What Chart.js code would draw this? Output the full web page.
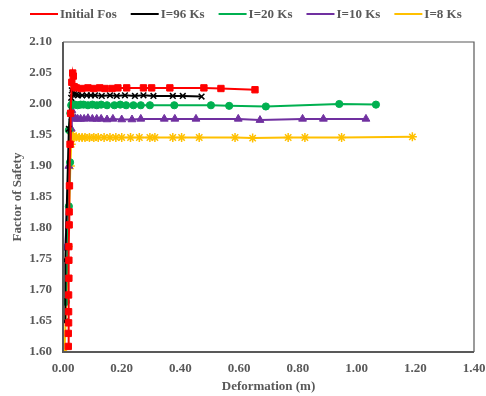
<!DOCTYPE html>
<html>
<head>
<meta charset="utf-8">
<script src="https://cdn.jsdelivr.net/npm/chart.js@4/dist/chart.umd.min.js"></script>
<style>
  html, body { margin: 0; padding: 0; background: #fff; }
  #wrap { width: 486px; height: 396px; }
</style>
</head>
<body>
<div id="wrap"><canvas id="c" width="486" height="396"></canvas></div>
<script>
// Factor of safety against deformation for each loading case
const seriesNames = ["Initial Fos", "I=96 Ks", "I=20 Ks", "I=10 Ks", "I=8 Ks"];

const initialX = [0.018,0.018,0.019,0.019,0.019,0.020,0.020,0.020,0.021,0.021,0.022,0.024,0.026,0.030,0.033,0.035,0.038,0.045,0.064,0.085,0.105,0.125,0.143,0.167,0.187,0.217,0.274,0.302,0.364,0.480,0.538,0.654];
const initialY = [1.609,1.630,1.647,1.665,1.692,1.719,1.748,1.770,1.805,1.826,1.868,1.935,1.985,2.035,2.050,2.045,2.028,2.026,2.025,2.026,2.025,2.026,2.025,2.025,2.026,2.026,2.026,2.026,2.026,2.026,2.025,2.023];

const i96X = [0.007,0.008,0.020,0.028,0.030,0.033,0.038,0.045,0.051,0.065,0.081,0.095,0.109,0.132,0.160,0.183,0.211,0.245,0.274,0.308,0.374,0.408,0.472];
const i96Y = [1.649,1.748,1.960,2.010,2.022,2.018,2.016,2.015,2.014,2.014,2.014,2.014,2.014,2.013,2.014,2.013,2.014,2.013,2.014,2.013,2.013,2.013,2.012];

const i20X = [0.010,0.020,0.024,0.020,0.025,0.028,0.032,0.040,0.050,0.060,0.070,0.085,0.100,0.115,0.130,0.150,0.175,0.195,0.215,0.240,0.265,0.296,0.379,0.504,0.566,0.691,0.941,1.066];
const i20Y = [1.681,1.835,1.906,1.958,1.985,1.998,2.000,1.999,1.998,1.999,1.999,1.998,1.999,1.998,1.999,1.998,1.998,1.999,1.998,1.998,1.998,1.998,1.998,1.998,1.997,1.996,2.000,1.999];

const i10X = [0.008,0.020,0.028,0.030,0.033,0.036,0.042,0.050,0.060,0.072,0.085,0.100,0.115,0.130,0.150,0.170,0.200,0.235,0.265,0.345,0.381,0.453,0.597,0.671,0.816,0.887,1.032];
const i10Y = [1.768,1.900,1.960,1.990,1.978,1.976,1.977,1.976,1.976,1.976,1.977,1.976,1.976,1.976,1.975,1.976,1.975,1.975,1.976,1.976,1.976,1.976,1.976,1.974,1.976,1.976,1.976];

const i8X = [0.005,0.018,0.025,0.028,0.030,0.033,0.038,0.045,0.055,0.065,0.075,0.090,0.105,0.120,0.140,0.160,0.180,0.200,0.230,0.260,0.296,0.313,0.374,0.404,0.464,0.586,0.646,0.767,0.824,0.949,1.190];
const i8Y = [1.600,1.770,1.900,1.935,1.952,1.947,1.946,1.947,1.946,1.946,1.946,1.946,1.946,1.946,1.946,1.946,1.946,1.946,1.946,1.946,1.946,1.946,1.946,1.946,1.946,1.946,1.945,1.946,1.946,1.946,1.947];

const xTicks = [0, 0.2, 0.4, 0.6, 0.8, 1.0, 1.2, 1.4];
const yTicks = [1.60, 1.65, 1.70, 1.75, 1.80, 1.85, 1.90, 1.95, 2.00, 2.05, 2.10];

const seriesX = [initialX, i96X, i20X, i10X, i8X];
const seriesY = [initialY, i96Y, i20Y, i10Y, i8Y];
const colors = ["#FF0000", "#000000", "#00B050", "#7030A0", "#FFC000"];
const styles = ["rect", "crossRot", "circle", "triangle", "star"];
const radii = [4.5, 4, 3.6, 4.5, 4.5];

const pts = (xs, ys) => xs.map((x, i) => ({ x: x, y: ys[i] }));

const datasets = seriesNames.map((name, k) => ({
  label: name,
  data: pts(seriesX[k], seriesY[k]),
  showLine: true,
  borderColor: colors[k],
  backgroundColor: colors[k],
  borderWidth: 2,
  pointStyle: styles[k],
  pointRadius: radii[k],
  pointBorderColor: colors[k],
  pointBackgroundColor: colors[k],
  pointBorderWidth: (styles[k] === 'crossRot' || styles[k] === 'star') ? 1.5 : 1,
  tension: 0
}));

const GREY = "#595959";
const FONT = "'Liberation Serif', 'Times New Roman', serif";

// Legend drawn as a line segment with its marker, followed by the label
const lineLegend = {
  id: 'lineLegend',
  afterDraw(chart) {
    const ctx = chart.ctx;
    ctx.save();
    ctx.font = "bold 13px " + FONT;
    ctx.textBaseline = 'middle';
    let x = 30;
    const y = 14;
    chart.data.datasets.forEach(ds => {
      ctx.strokeStyle = ds.borderColor;
      ctx.lineWidth = 2;
      ctx.beginPath();
      ctx.moveTo(x, y);
      ctx.lineTo(x + 28, y);
      ctx.stroke();
      ctx.fillStyle = ds.backgroundColor;
      ctx.lineWidth = ds.pointBorderWidth;
      Chart.helpers.drawPoint(ctx, { pointStyle: ds.pointStyle, rotation: 0, borderWidth: ds.pointBorderWidth }, x + 14, y, ds.pointRadius);
      ctx.fillStyle = GREY;
      ctx.fillText(ds.label, x + 30, y + 1);
      x += 30 + ctx.measureText(ds.label).width + 14;
    });
    ctx.restore();
  }
};

// Frame around the plotting area
const frame = {
  id: 'frame',
  afterDatasetsDraw(chart) {
    const { left, top, right, bottom } = chart.chartArea;
    const ctx = chart.ctx;
    ctx.save();
    ctx.strokeStyle = GREY;
    ctx.lineWidth = 1.2;
    ctx.beginPath();
    ctx.moveTo(left, top);
    ctx.lineTo(right, top);
    ctx.lineTo(right, bottom);
    ctx.stroke();
    ctx.lineWidth = 2;
    ctx.beginPath();
    ctx.moveTo(left, top);
    ctx.lineTo(left, bottom);
    ctx.lineTo(right, bottom);
    ctx.stroke();
    ctx.restore();
  }
};

new Chart(document.getElementById('c'), {
  type: 'scatter',
  data: { datasets: datasets },
  options: {
    responsive: false,
    animation: false,
    layout: { padding: { top: 42, right: 12, bottom: 0, left: 0 } },
    plugins: { legend: { display: false }, tooltip: { enabled: false } },
    scales: {
      x: {
        type: 'linear',
        min: 0, max: 1.4,
        afterBuildTicks: s => { s.ticks = xTicks.map(v => ({ value: v })); },
        afterFit: s => { s.height = 44; s.paddingLeft = 0; s.paddingRight = 0; },
        grid: { display: false, drawTicks: false },
        border: { display: false },
        ticks: {
          color: GREY, padding: 9,
          font: { family: FONT, size: 13, weight: 'bold' },
          callback: v => v.toFixed(2)
        },
        title: {
          display: true, text: 'Deformation (m)', color: GREY,
          font: { family: FONT, size: 13, weight: 'bold' },
          padding: { top: 2, bottom: 2 }
        }
      },
      y: {
        type: 'linear',
        min: 1.6, max: 2.1,
        afterBuildTicks: s => { s.ticks = yTicks.map(v => ({ value: v })); },
        afterFit: s => { s.width = 63; s.paddingTop = 0; s.paddingBottom = 0; },
        grid: { display: false, drawTicks: false },
        border: { display: false },
        ticks: {
          color: GREY, padding: 11,
          font: { family: FONT, size: 13, weight: 'bold' },
          callback: v => v.toFixed(2)
        },
        title: {
          display: true, text: 'Factor of Safety', color: GREY,
          font: { family: FONT, size: 13, weight: 'bold' },
          padding: { top: 10, bottom: 2 }
        }
      }
    }
  },
  plugins: [lineLegend, frame]
});
</script>
</body>
</html>
